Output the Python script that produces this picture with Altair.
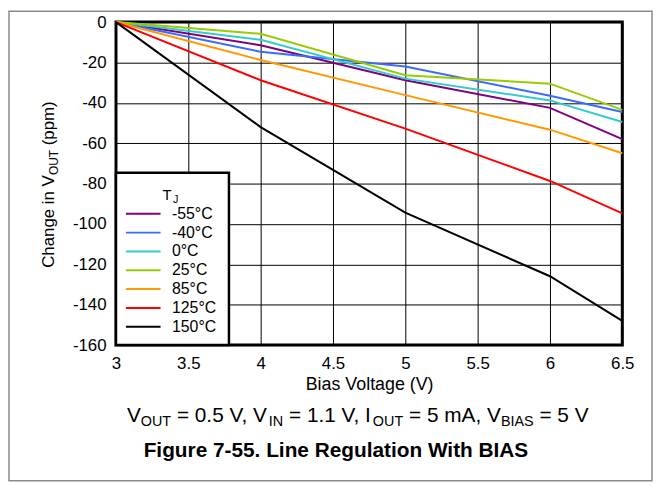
import altair as alt
import pandas as pd

# ---------------- data ----------------
bias_v = [3, 4, 5, 6, 6.5]
tj_labels = ["-55°C", "-40°C", "0°C", "25°C", "85°C", "125°C", "150°C"]
tj_colors = ["#800080", "#3a6bff", "#33cccc", "#99cc00", "#ff9900", "#ff0000", "#000000"]
ppm_m55 = [0, -11.5, -28.8, -42.5, -58.0]
ppm_m40 = [0, -14.7, -22.0, -36.5, -44.5]
ppm_0 = [0, -8.8, -28.0, -38.8, -49.5]
ppm_25 = [0, -5.8, -26.3, -30.5, -43.5]
ppm_85 = [0, -18.8, -36.2, -53.3, -65.0]
ppm_125 = [0, -28.8, -52.8, -78.7, -94.8]
ppm_150 = [0, -52.0, -94.4, -125.9, -148.0]
x_ticks = [3, 3.5, 4, 4.5, 5, 5.5, 6, 6.5]
y_ticks = [0, -20, -40, -60, -80, -100, -120, -140, -160]

series_vals = [ppm_m55, ppm_m40, ppm_0, ppm_25, ppm_85, ppm_125, ppm_150]
rows = []
for lab, vals in zip(tj_labels, series_vals):
    for xv, yv in zip(bias_v, vals):
        rows.append({"bias": xv, "ppm": yv, "tj": lab})
df = pd.DataFrame(rows)

FONT = "Liberation Sans"

# Arial / Liberation Sans advance widths (1/1000 em) for rich-text layout
W = {' ': 278, '(': 333, ')': 333, ',': 278, '-': 333, '.': 278, '=': 584,
     'A': 667, 'B': 667, 'C': 722, 'I': 278, 'N': 722, 'O': 778, 'S': 667,
     'T': 611, 'U': 722, 'V': 667, 'a': 556, 'e': 556, 'g': 556, 'h': 556,
     'i': 222, 'm': 833, 'n': 556, 'p': 556}
for d in "0123456789":
    W[d] = 556


def tw(s, fs):
    return sum(W.get(c, 556) for c in s) * fs / 1000.0


def rich(pieces, start, direction=1):
    out = []
    cur = start
    for txt, fs, off in pieces:
        lead = len(txt) - len(txt.lstrip(' '))
        pos = cur + direction * tw(' ' * lead, fs)
        out.append({"t": txt.strip(), "fs": fs, "pos": pos, "off": off})
        cur += direction * tw(txt, fs)
    return out, cur


# ---------- y axis title with subscript (rotated) ----------
ytitle_pieces = [("Change in V", 17, 0), ("OUT", 12, 4), (" (ppm)", 17, 0)]
yt, _ = rich(ytitle_pieces, 248, direction=-1)
ytitle_df = pd.DataFrame([{"t": p["t"], "fs": p["fs"], "px": -63 + p["off"], "py": p["pos"]} for p in yt])

# ---------- conditions line with subscripts ----------
MAIN, SUB = 21, 14.5
cond_pieces = [("V", MAIN, 0), ("OUT", SUB, 4), (" = 0.5 V, V", MAIN, 0), ("IN", SUB, 4),
               (" = 1.1 V, I", MAIN, 0), ("OUT", SUB, 4), (" = 5 mA, V", MAIN, 0),
               ("BIAS", SUB, 4), (" = 5 V", MAIN, 0)]
_, total_end = rich(cond_pieces, 0)
ct, _ = rich(cond_pieces, 244 - total_end / 2.0)
cond_df = pd.DataFrame([{"t": p["t"], "fs": p["fs"], "px": p["pos"], "py": 404 + p["off"]} for p in ct])

# ---------- legend title T with subscript J ----------
legend_title_df = pd.DataFrame([{"t": "T", "fs": 15, "px": 47, "py": 180},
                                {"t": "J", "fs": 11, "px": 57.5, "py": 182.5}])

caption_df = pd.DataFrame([{"t": "Figure 7-55. Line Regulation With BIAS"}])
one_df = pd.DataFrame([{"a": 0}])

# ---------------- chart ----------------
lines = alt.Chart(df).mark_line(strokeWidth=2).encode(
    x=alt.X("bias:Q", scale=alt.Scale(domain=[3, 6.5], nice=False, zero=False),
            axis=alt.Axis(values=x_ticks, labelExpr="'' + datum.value", labelFlush=False,
                          title="Bias Voltage (V)", titleFontSize=18,
                          titleY=45, titleBaseline="alphabetic", labelPadding=11)),
    y=alt.Y("ppm:Q", scale=alt.Scale(domain=[-160, 0], nice=False, zero=False),
            axis=alt.Axis(values=y_ticks, labelExpr="'' + datum.value", labelFlush=False,
                          title=None, labelPadding=10)),
    color=alt.Color("tj:N", scale=alt.Scale(domain=tj_labels, range=tj_colors),
                    legend=alt.Legend(orient="none", legendX=0, legendY=166, title=None,
                                      symbolType="M-1.75,0H1.75",
                                      symbolSize=400, symbolStrokeWidth=2, labelOffset=18,
                                      padding=16.5, rowPadding=0)),
    order="bias:Q",
)

ytitle = alt.Chart(ytitle_df).mark_text(angle=270, align="left", baseline="alphabetic",
                                        font=FONT, color="black").encode(
    x=alt.X("px:Q", scale=None), y=alt.Y("py:Q", scale=None), text="t:N",
    size=alt.Size("fs:Q", scale=None, legend=None))

cond = alt.Chart(cond_df).mark_text(align="left", baseline="alphabetic",
                                    font=FONT, color="black").encode(
    x=alt.X("px:Q", scale=None), y=alt.Y("py:Q", scale=None), text="t:N",
    size=alt.Size("fs:Q", scale=None, legend=None))

legend_title = alt.Chart(legend_title_df).mark_text(align="left", baseline="alphabetic",
                                                    font=FONT, color="black").encode(
    x=alt.X("px:Q", scale=None), y=alt.Y("py:Q", scale=None), text="t:N",
    size=alt.Size("fs:Q", scale=None, legend=None))

caption = alt.Chart(caption_df).mark_text(align="center", baseline="alphabetic", font=FONT,
                                          fontSize=21, fontWeight="bold", color="black").encode(
    x=alt.value(222), y=alt.value(439), text="t:N")

legend_box = alt.Chart(one_df).mark_rect(fill="white", stroke="black", strokeWidth=2.5).encode(
    x=alt.value(0), x2=alt.value(114), y=alt.value(152), y2=alt.value(326))

frame = alt.Chart(one_df).mark_rect(fillOpacity=0, stroke="#8a8a8a", strokeWidth=1.5).encode(
    x=alt.value(-108), x2=alt.value(541), y=alt.value(-11), y2=alt.value(463))

chart = alt.layer(frame, lines, legend_box, legend_title, ytitle, cond, caption).properties(
    width=511, height=326,
    autosize=alt.AutoSizeParams(type="none"),
    padding={"left": 109, "top": 12, "right": 31, "bottom": 138},
).configure_view(
    stroke="black", strokeWidth=3
).configure_axis(
    grid=True, gridColor="black", gridWidth=1, gridOpacity=1,
    domain=False, ticks=False, tickSize=0,
    labelFont=FONT, labelFontSize=17, labelColor="black",
    titleFont=FONT, titleFontSize=17, titleFontWeight="normal", titleColor="black",
).configure_legend(
    labelFont=FONT, labelFontSize=16, labelColor="black",
)

chart.save("out.html", embed_options={"renderer": "svg", "actions": False})
